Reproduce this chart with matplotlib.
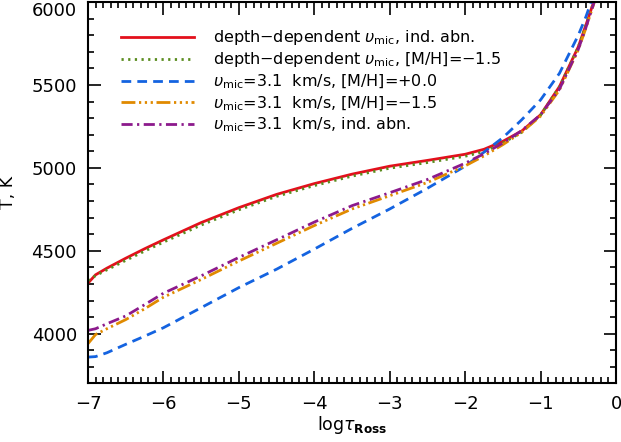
import numpy as np
import matplotlib
matplotlib.use('Agg')
import matplotlib.pyplot as plt
from matplotlib.ticker import MultipleLocator

# data
logtau = [-7, -6.9, -6.75, -6.5, -6.25, -6, -5.5, -5, -4.5, -4, -3.5, -3,
          -2.5, -2, -1.75, -1.5, -1.25, -1, -0.75, -0.5, -0.4, -0.3, -0.2]
T_red = [4305, 4355, 4395, 4455, 4512, 4566, 4670, 4760, 4840, 4905, 4962, 5010,
         5045, 5082, 5112, 5160, 5222, 5320, 5490, 5730, 5860, 5995, 6150]
T_green = [4320, 4350, 4385, 4442, 4498, 4552, 4655, 4747, 4828, 4893, 4950, 4998,
           5032, 5070, 5098, 5150, 5215, 5318, 5488, 5728, 5858, 5993, 6148]
T_blue = [3859, 3862, 3885, 3936, 3985, 4036, 4157, 4278, 4389, 4510, 4635, 4752,
          4877, 5010, 5095, 5182, 5290, 5410, 5570, 5800, 5910, 6040, 6200]
T_orange = [3940, 3995, 4030, 4085, 4150, 4220, 4327, 4438, 4545, 4652, 4752, 4832,
            4912, 5012, 5072, 5140, 5215, 5312, 5470, 5712, 5842, 5982, 6138]
T_purple = [4020, 4030, 4060, 4107, 4175, 4244, 4349, 4460, 4566, 4673, 4772, 4850,
            4930, 5028, 5085, 5150, 5225, 5320, 5475, 5715, 5845, 5985, 6140]

labels = [r'depth$-$dependent $\upsilon_{\rm mic}$, ind. abn.',
          r'depth$-$dependent $\upsilon_{\rm mic}$, [M/H]=$-$1.5',
          r'$\upsilon_{\rm mic}$=3.1  km/s, [M/H]=+0.0',
          r'$\upsilon_{\rm mic}$=3.1  km/s, [M/H]=$-$1.5',
          r'$\upsilon_{\rm mic}$=3.1  km/s, ind. abn.']

plt.rcParams['font.family'] = 'DejaVu Sans'
plt.rcParams['mathtext.fontset'] = 'dejavusans'

fig = plt.figure(figsize=(6.21, 4.42), dpi=100)
ax = fig.add_axes([0.1417, 0.1324, 0.8503, 0.8631])

lw = 2.0
ax.plot(logtau, T_red, color='#e3101c', lw=lw, ls='-', label=labels[0])
ax.plot(logtau, T_green, color='#5a8c1e', lw=lw, ls=(0, (0.8, 1.6)), label=labels[1])
ax.plot(logtau, T_blue, color='#1463e0', lw=lw, ls=(0, (3.5, 2.2)), label=labels[2])
ax.plot(logtau, T_orange, color='#e08a00', lw=lw,
        ls=(0, (5, 1.3, 0.8, 1.3, 0.8, 1.3, 0.8, 1.3)), label=labels[3])
ax.plot(logtau, T_purple, color='#8c1a8c', lw=lw, ls=(0, (4, 1.6, 0.8, 1.6)), label=labels[4])

ax.set_xlim(-7, 0)
ax.set_ylim(3700, 6000)
ax.xaxis.set_major_locator(MultipleLocator(1))
ax.xaxis.set_minor_locator(MultipleLocator(0.1))
ax.yaxis.set_major_locator(MultipleLocator(500))
ax.yaxis.set_minor_locator(MultipleLocator(100))
ax.tick_params(which='both', direction='in', top=True, right=True, labelsize=13, width=1.2)
ax.tick_params(which='major', length=9, pad=8)
ax.tick_params(which='minor', length=4.5)
for s in ax.spines.values():
    s.set_linewidth(1.5)

ax.set_xlabel(r'log$\tau_{\mathbf{Ross}}$', fontsize=12.5, labelpad=1)
ax.set_ylabel('T, K', fontsize=12.5, labelpad=10)

ax.legend(loc='upper left', bbox_to_anchor=(0.05, 0.948), frameon=False,
          fontsize=11.5, handlelength=4.6, handletextpad=1.2, labelspacing=0.2,
          borderaxespad=0)

# keep the top label inside the figure, like the original
fig.canvas.draw()
for tick in ax.yaxis.get_major_ticks():
    if abs(tick.get_loc() - 6000) < 1:
        tick.label1.set_verticalalignment('top')

fig.savefig('out.png', dpi=100)
